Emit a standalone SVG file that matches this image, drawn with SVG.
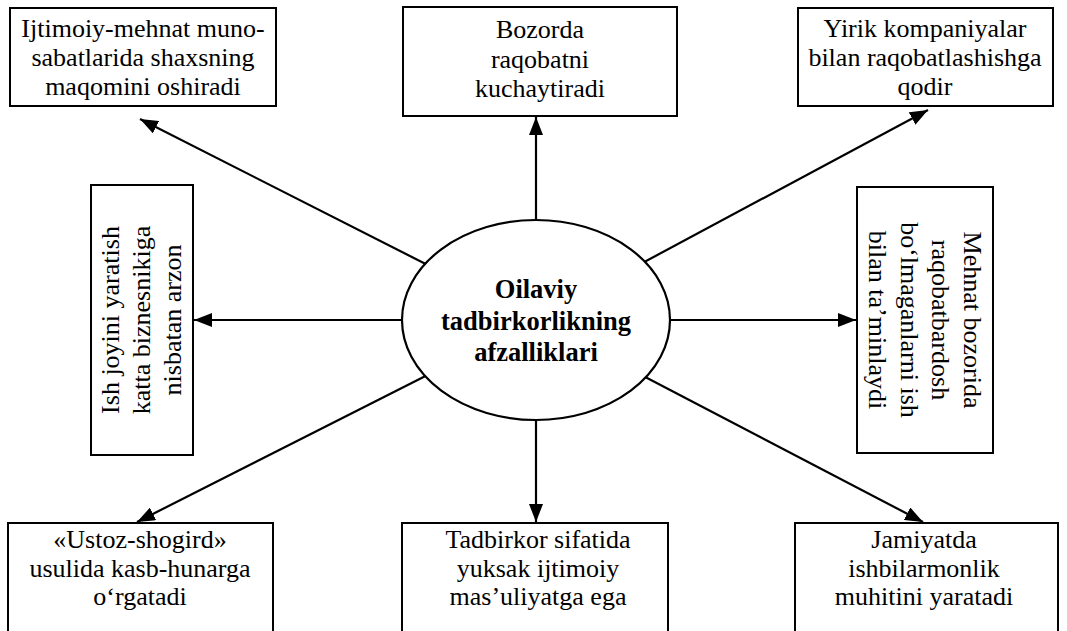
<svg xmlns="http://www.w3.org/2000/svg" width="1067" height="631" viewBox="0 0 1067 631">
<style>
.box{fill:#fff;stroke:#000;stroke-width:2}
.t{font-family:"Liberation Serif","Times New Roman",serif;font-size:26px;fill:#000;text-anchor:middle}
.c{font-family:"Liberation Serif","Times New Roman",serif;font-size:26.5px;font-weight:bold;fill:#000;text-anchor:middle}
.ln{stroke:#000;stroke-width:2.2;fill:none;marker-end:url(#ah)}
</style>
<defs>
<marker id="ah" markerUnits="userSpaceOnUse" markerWidth="19" markerHeight="14" refX="18" refY="7" orient="auto">
<path d="M0,0 L18,7 L0,14 z" fill="#000"/>
</marker>
</defs>
<rect width="1067" height="631" fill="#fff"/>
<g id="connectors">
<line class="ln" x1="536" y1="320" x2="536" y2="117"/>
<line class="ln" x1="536" y1="320" x2="140" y2="119"/>
<line class="ln" x1="536" y1="320" x2="928" y2="110"/>
<line class="ln" x1="536" y1="320" x2="194" y2="320"/>
<line class="ln" x1="536" y1="320" x2="856" y2="320"/>
<line class="ln" x1="536" y1="320" x2="137" y2="522"/>
<line class="ln" x1="536" y1="320" x2="536" y2="522"/>
<line class="ln" x1="536" y1="320" x2="923" y2="522"/>
</g>
<g id="center">
<ellipse cx="536" cy="320" rx="134" ry="100" fill="#fff" stroke="#000" stroke-width="2.2"/>
<text class="c"><tspan x="536" y="298">Oilaviy</tspan><tspan x="536" y="330">tadbirkorlikning</tspan><tspan x="536" y="361">afzalliklari</tspan></text>
</g>
<g id="n-top-left">
<rect class="box" x="10" y="8" width="266" height="98"/>
<text class="t"><tspan x="143" y="37">Ijtimoiy-mehnat muno-</tspan><tspan x="143" y="66">sabatlarida shaxsning</tspan><tspan x="143" y="95">maqomini oshiradi</tspan></text>
</g>
<g id="n-top">
<rect class="box" x="403" y="7" width="274" height="109"/>
<text class="t"><tspan x="540" y="38">Bozorda</tspan><tspan x="540" y="68">raqobatni</tspan><tspan x="540" y="97">kuchaytiradi</tspan></text>
</g>
<g id="n-top-right">
<rect class="box" x="798" y="8" width="255" height="98"/>
<text class="t"><tspan x="925" y="37">Yirik kompaniyalar</tspan><tspan x="925" y="66">bilan raqobatlashishga</tspan><tspan x="925" y="95">qodir</tspan></text>
</g>
<g id="n-left">
<rect class="box" x="91" y="185" width="102" height="270"/>
<text class="t" transform="translate(142,320) rotate(-90)"><tspan x="0" y="-23">Ish joyini yaratish</tspan><tspan x="0" y="8">katta biznesnikiga</tspan><tspan x="0" y="39">nisbatan arzon</tspan></text>
</g>
<g id="n-right">
<rect class="box" x="857" y="187" width="136" height="266"/>
<text class="t" transform="translate(925,320) rotate(90)"><tspan x="0" y="-39">Mehnat bozorida</tspan><tspan x="0" y="-7">raqobatbardosh</tspan><tspan x="0" y="24">boʻlmaganlarni ish</tspan><tspan x="0" y="56">bilan taʼminlaydi</tspan></text>
</g>
<g id="n-bottom-left">
<rect class="box" x="8" y="523" width="265" height="112"/>
<text class="t"><tspan x="140" y="548">«Ustoz-shogird»</tspan><tspan x="140" y="577">usulida kasb-hunarga</tspan><tspan x="140" y="605">oʻrgatadi</tspan></text>
</g>
<g id="n-bottom">
<rect class="box" x="402" y="523" width="266" height="112"/>
<text class="t"><tspan x="538" y="548">Tadbirkor sifatida</tspan><tspan x="538" y="577">yuksak ijtimoiy</tspan><tspan x="538" y="605">masʼuliyatga ega</tspan></text>
</g>
<g id="n-bottom-right">
<rect class="box" x="795" y="523" width="263" height="112"/>
<text class="t"><tspan x="924" y="548">Jamiyatda</tspan><tspan x="924" y="577">ishbilarmonlik</tspan><tspan x="924" y="605">muhitini yaratadi</tspan></text>
</g>
</svg>
